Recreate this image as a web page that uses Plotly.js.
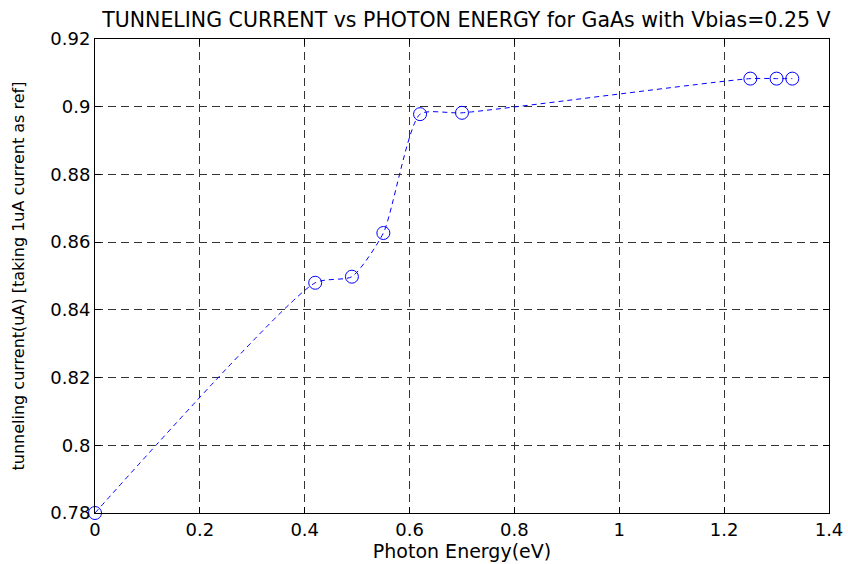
<!DOCTYPE html>
<html>
<head>
<meta charset="utf-8">
<script src="https://cdn.plot.ly/plotly-3.0.1.min.js"></script>
<style>html,body{margin:0;padding:0;background:#fff;}#chart{width:848px;height:564px;}</style>
</head>
<body>
<div id="chart"></div>
<script>
const photonEnergy = [0, 0.42, 0.49, 0.55, 0.62, 0.70, 1.25, 1.30, 1.33];
const tunnelingCurrent = [0.780, 0.848, 0.8498, 0.8627, 0.8978, 0.8982, 0.9083, 0.9083, 0.9083];
const xTicks = [0, 0.2, 0.4, 0.6, 0.8, 1, 1.2, 1.4];
const xTickText = ['0', '0.2', '0.4', '0.6', '0.8', '1', '1.2', '1.4'];
const yTicks = [0.78, 0.8, 0.82, 0.84, 0.86, 0.88, 0.9, 0.92];
const yTickText = ['0.78', '0.8', '0.82', '0.84', '0.86', '0.88', '0.9', '0.92'];

const font = 'DejaVu Sans, Liberation Sans, Arial, sans-serif';

const trace = {
  x: photonEnergy,
  y: tunnelingCurrent,
  type: 'scatter',
  mode: 'lines+markers',
  line: {color: '#0000ff', width: 1, dash: '5px,4px', shape: 'spline', smoothing: 0.6},
  marker: {symbol: 'circle-open', size: 13, color: '#0000ff', line: {width: 1, color: '#0000ff'}},
  cliponaxis: false,
  hoverinfo: 'x+y'
};

const axisCommon = {
  showline: true, linecolor: '#000', linewidth: 1, mirror: 'allticks',
  ticks: 'inside', ticklen: 6, tickcolor: '#000', tickwidth: 1,
  showgrid: true, gridcolor: '#333', gridwidth: 1, griddash: '8px,5px',
  zeroline: false,
  tickfont: {family: font, size: 18, color: '#000'}
};

const layout = {
  width: 848, height: 564,
  margin: {l: 95, r: 19, t: 39, b: 51},
  paper_bgcolor: '#fff', plot_bgcolor: '#fff',
  showlegend: false,
  title: {text: 'TUNNELING CURRENT vs PHOTON ENERGY for GaAs with Vbias=0.25 V',
          font: {family: font, size: 20.5, color: '#000'},
          x: 0.550, xanchor: 'center', y: 0.964, yanchor: 'middle'},
  xaxis: Object.assign({}, axisCommon, {
    range: [0, 1.4], tickvals: xTicks, ticktext: xTickText,
    title: {text: 'Photon Energy(eV)', font: {family: font, size: 19, color: '#000'}, standoff: 2}
  }),
  yaxis: Object.assign({}, axisCommon, {
    range: [0.78, 0.92], tickvals: yTicks, ticktext: yTickText,
    title: {text: 'tunneling current(uA) [taking 1uA current as ref]', font: {family: font, size: 16, color: '#000'}, standoff: 21}
  })
};

Plotly.newPlot('chart', [trace], layout, {displayModeBar: false, staticPlot: true});
</script>
</body>
</html>
